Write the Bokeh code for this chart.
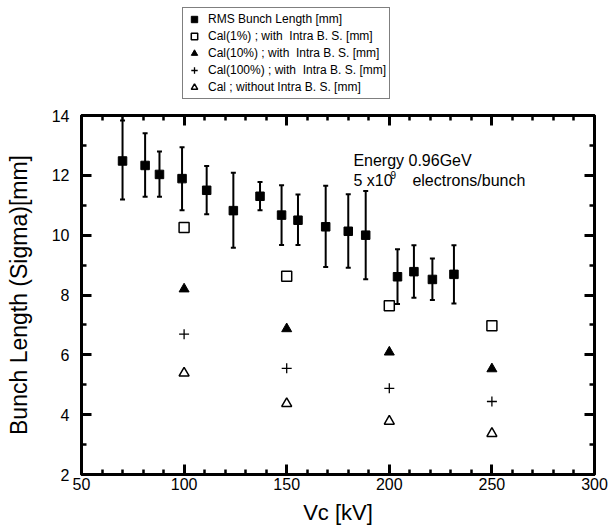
from bokeh.plotting import figure
from bokeh.layouts import column
from bokeh.models import (ColumnDataSource, Whisker, TeeHead, Legend, LegendItem,
                          LinearAxis, SingleIntervalTicker, Range1d)
from bokeh.core.properties import value
from bokeh.embed import file_html
from bokeh.resources import INLINE

# ---- data ----
rms_vc = [70, 81, 88, 99, 111, 124, 137, 147.5, 155.5, 169, 180, 188.5, 204, 212, 221, 231.5]
rms_len = [12.48, 12.33, 12.03, 11.89, 11.5, 10.82, 11.3, 10.67, 10.5, 10.28, 10.13, 10.0, 8.61, 8.78, 8.52, 8.69]
rms_upper = [13.83, 13.41, 12.8, 12.94, 12.31, 12.09, 11.78, 11.67, 11.36, 11.65, 11.37, 11.48, 9.53, 9.66, 9.22, 9.66]
rms_lower = [11.19, 11.28, 11.28, 10.83, 10.7, 9.58, 10.83, 9.67, 9.67, 8.94, 8.91, 8.53, 7.7, 7.91, 7.83, 7.72]

cal_vc = [100, 150, 200, 250]
cal_1pct = [10.26, 8.63, 7.64, 6.97]
cal_10pct = [8.2, 6.87, 6.09, 5.53]
cal_100pct = [6.69, 5.55, 4.88, 4.44]
cal_without = [5.39, 4.37, 3.78, 3.37]

legend_labels = ["RMS Bunch Length [mm]",
                 "Cal(1%) ; with  Intra B. S. [mm]",
                 "Cal(10%) ; with  Intra B. S. [mm]",
                 "Cal(100%) ; with  Intra B. S. [mm]",
                 "Cal ; without Intra B. S. [mm]"]

x_label = "Vc [kV]"
y_label = "Bunch Length (Sigma)[mm]"

x_major = [50, 100, 150, 200, 250, 300]
y_major = [2, 4, 6, 8, 10, 12, 14]

FONT = "Liberation Sans"

# marker styles (shared by plot and legend)
styles = [
    dict(marker="square", size=8.5, fill_color="black", line_color="black", line_width=1),
    dict(marker="square", size=10, fill_color="white", line_color="black", line_width=1.5),
    dict(marker="triangle", size=10, fill_color="black", line_color="black", line_width=1),
    dict(marker="cross", size=10, line_color="black", line_width=1.3),
    dict(marker="triangle", size=10, fill_color="white", line_color="black", line_width=1.5),
]
series = [(rms_vc, rms_len), (cal_vc, cal_1pct), (cal_vc, cal_10pct),
          (cal_vc, cal_100pct), (cal_vc, cal_without)]

# ---------------- main plot ----------------
p = figure(width=608, height=418,
           min_border_left=81, min_border_right=14, min_border_top=6, min_border_bottom=48,
           x_range=Range1d(50, 300), y_range=Range1d(2, 14),
           output_backend="svg", toolbar_location=None,
           x_axis_label=x_label, y_axis_label=y_label)
p.background_fill_color = "white"
p.border_fill_color = "white"
p.xgrid.visible = False
p.ygrid.visible = False
p.outline_line_color = "black"
p.outline_line_width = 3

p.xaxis.ticker = SingleIntervalTicker(interval=50, num_minor_ticks=5)
p.yaxis.ticker = SingleIntervalTicker(interval=2, num_minor_ticks=2)

def style_axis(ax):
    ax.axis_line_color = None
    ax.major_tick_in = 10
    ax.major_tick_out = 0
    ax.minor_tick_in = 5
    ax.minor_tick_out = 0
    ax.major_tick_line_width = 3
    ax.minor_tick_line_width = 2.5
    ax.major_tick_line_color = "black"
    ax.minor_tick_line_color = "black"
    ax.major_label_text_font = FONT
    ax.major_label_text_font_size = "16px"
    ax.major_label_text_color = "black"
    ax.axis_label_text_font = FONT
    ax.axis_label_text_font_style = "normal"
    ax.axis_label_text_color = "black"

for ax in p.xaxis:
    style_axis(ax)
    ax.major_label_standoff = 3
    ax.axis_label_standoff = 7
    ax.axis_label_text_font_size = "22px"
for ax in p.yaxis:
    style_axis(ax)
    ax.major_label_standoff = 12
    ax.axis_label_standoff = 17
    ax.axis_label_text_font_size = "23px"

top_ax = LinearAxis(ticker=SingleIntervalTicker(interval=50, num_minor_ticks=5))
style_axis(top_ax)
top_ax.major_label_overrides = {v: "" for v in x_major}
top_ax.major_label_standoff = 0
p.add_layout(top_ax, "above")
right_ax = LinearAxis(ticker=SingleIntervalTicker(interval=2, num_minor_ticks=2))
style_axis(right_ax)
right_ax.major_label_overrides = {v: "" for v in y_major}
right_ax.major_label_standoff = 0
p.add_layout(right_ax, "right")

# error bars
src_rms = ColumnDataSource(dict(x=rms_vc, y=rms_len, upper=rms_upper, lower=rms_lower))
wh = Whisker(source=src_rms, base="x", upper="upper", lower="lower", dimension="height",
             line_width=2, line_color="black",
             upper_head=TeeHead(size=5, line_width=2, line_color="black"),
             lower_head=TeeHead(size=5, line_width=2, line_color="black"))
p.add_layout(wh)

for (xs, ys), st in zip(series, styles):
    p.scatter(xs, ys, **st)

# annotation text
ann_x = 182.5
p.text(x=[ann_x], y=[12.5], text=["Energy 0.96GeV"], text_font=value(FONT),
       text_font_size="16px", text_baseline="middle", text_align="left", text_color="black")
p.text(x=[ann_x], y=[11.83], text=["5 x10"], text_font=value(FONT),
       text_font_size="16px", text_baseline="middle", text_align="left", text_color="black")
p.text(x=[ann_x], y=[11.83], text=["9"], x_offset=37, y_offset=-5, text_font=value(FONT),
       text_font_size="10px", text_baseline="middle", text_align="left", text_color="black")
p.text(x=[ann_x], y=[11.83], text=["electrons/bunch"], x_offset=59, text_font=value(FONT),
       text_font_size="16px", text_baseline="middle", text_align="left", text_color="black")

# ---------------- legend strip above the plot ----------------
TOP_H = 109
lg = figure(width=608, height=TOP_H,
            min_border_left=81, min_border_right=14, min_border_top=0, min_border_bottom=0,
            x_range=Range1d(0, 513), y_range=Range1d(0, TOP_H),
            x_axis_type=None, y_axis_type=None,
            output_backend="svg", toolbar_location=None)
lg.xgrid.visible = False
lg.ygrid.visible = False
lg.outline_line_color = None
lg.background_fill_color = "white"
lg.border_fill_color = "white"
# the legend's renderers carry the same series but map to a range that is out of view
lg.extra_x_ranges = {"off": Range1d(1000, 2000)}
legend_renderers = [lg.scatter(xs, ys, x_range_name="off", **st)
                    for (xs, ys), st in zip(series, styles)]

legend = Legend(items=[LegendItem(label=lab, renderers=[r])
                       for lab, r in zip(legend_labels, legend_renderers)],
                location=(101, 10), orientation="vertical")
legend.margin = 0
legend.padding = 3
legend.spacing = 1
legend.glyph_width = 16
legend.glyph_height = 16
legend.label_height = 16
legend.label_standoff = 6
legend.label_text_font = FONT
legend.label_text_font_size = "12px"
legend.label_text_color = "black"
legend.border_line_color = "black"
legend.border_line_width = 1
legend.background_fill_color = "white"
legend.background_fill_alpha = 1
lg.add_layout(legend)

layout = column(lg, p, spacing=0)
open("out.html", "w").write(file_html(layout, INLINE))
